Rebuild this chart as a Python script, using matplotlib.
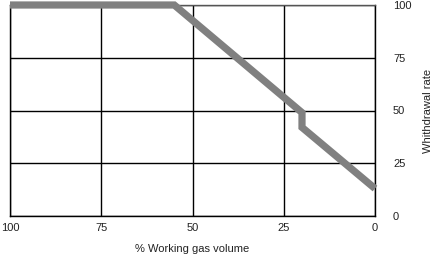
import numpy as np
import matplotlib.pyplot as plt

plt.rcParams['font.family'] = ['Liberation Sans', 'DejaVu Sans']

# Withdrawal curve
gas_volume = [100, 55, 20, 20, 0]
withdrawal = [100, 100, 49, 42, 13]
ticks = [100, 75, 50, 25, 0]

fig = plt.figure(figsize=(4.42, 2.68), dpi=100)
ax = fig.add_axes([10 / 442, 52 / 268, 365 / 442, 211 / 268])

ax.plot(gas_volume, withdrawal, color='#808080', linewidth=5.2,
        solid_joinstyle='miter', solid_capstyle='butt', clip_on=False, zorder=3)

ax.set_xlim(100, 0)
ax.set_ylim(0, 100)
ax.set_xticks(ticks)
ax.set_yticks(ticks)
ax.tick_params(length=0, labelsize=8, colors='#222222')
ax.tick_params(axis='x', pad=5)
ax.tick_params(axis='y', pad=13)
ax.yaxis.tick_right()
ax.yaxis.set_label_position('right')
ax.grid(True, color='black', linewidth=1)
for s in ax.spines.values():
    s.set_linewidth(1)
ax.spines['top'].set_color('#555555')

ax.set_xlabel('% Working gas volume', fontsize=8, labelpad=8, color='#222222')
ax.set_ylabel('Whithdrawal rate', fontsize=8, labelpad=8, color='#222222')

fig.savefig('out.png', dpi=100)
